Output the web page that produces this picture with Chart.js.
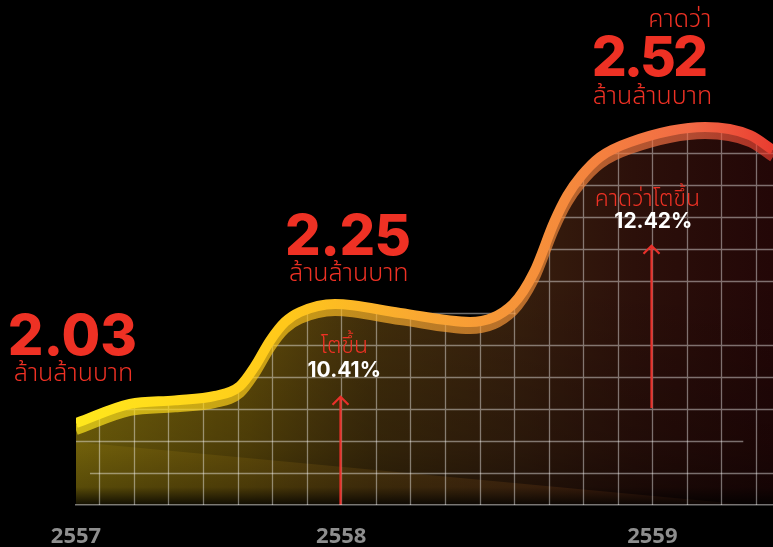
<!DOCTYPE html>
<html>
<head>
<meta charset="utf-8">
<script src="https://cdn.jsdelivr.net/npm/chart.js@4/dist/chart.umd.min.js"></script>
<style>
html,body{margin:0;padding:0;background:#000;}
#wrap{width:773px;height:547px;position:relative;}
</style>
</head>
<body>
<div id="wrap"><canvas id="c" width="773" height="547"></canvas></div>
<script>
// ---- data ----
const yearLabels = ['2557', '2558', '2559'];
const yearPos = [0.326, 8, 17];
const valueLabels = ['2.03', '2.25', '2.52'];
const unitLabel = 'ล้านล้านบาท';
const growthLabels = ['10.41%', '12.42%'];
const growthTitles = ['โตขึ้น', 'คาดว่าโตขึ้น'];
const forecastLabel = 'คาดว่า';
const arrowPos = [8, 17];
const arrowFrom = [0, 3.03];
const arrowTo = [3.38, 8.1];

const curveX = [0.326, 1.888, 3.19, 4.348, 5.071, 5.505, 5.939, 6.373, 6.807, 7.82, 9.701, 11.727, 12.97, 13.578, 14.157, 14.533, 14.938, 15.488, 16.356, 18.526, 19.828, 20.49];
const curveY = [2.56, 3.16, 3.27, 3.41, 3.72, 4.34, 5.13, 5.72, 6.03, 6.28, 6.0, 5.72, 6.28, 7.28, 8.84, 9.66, 10.28, 10.875, 11.34, 11.81, 11.56, 11.09];
const shadeX = [0.326, 19.8, 20.49];
const shadeY = [1.97, 0, 0];

// horizontal guide lines (level, start, end) that differ from full width
const guideLevels = [1, 2, 6];
const guideFrom = [0.73, 0.326, 9.21];
const guideTo = [20.49, 19.63, 13.05];

const X_MIN = 0.326, X_MAX = 20.49, Y_MAX = 13;

const THAI = "'Noto Sans Thai', 'Noto Sans Thai Looped', 'Noto Sans', 'DejaVu Sans', sans-serif";
const NUM = "Inter, 'Open Sans', sans-serif";
const RED = '#ee3124';
const GRID = 'rgba(255,255,255,0.42)';

function hGrad(chart, stops) {
  const {ctx, chartArea: a} = chart;
  const g = ctx.createLinearGradient(a.left, 0, a.right, 0);
  stops.forEach(s => g.addColorStop(s[0], s[1]));
  return g;
}

const lineStops = [[0, '#ffe81c'], [0.3, '#ffc81a'], [0.5, '#f9a632'], [0.7, '#f58a3c'], [0.88, '#f26a45'], [1, '#e93c30']];
const fillStops = [[0, 'rgba(170,145,15,0.78)'], [0.25, 'rgba(155,122,15,0.64)'], [0.42, 'rgba(130,92,22,0.52)'], [0.62, 'rgba(125,72,30,0.45)'], [0.8, 'rgba(110,40,25,0.4)'], [1, 'rgba(100,20,20,0.35)']];
const shadeStops = [[0, 'rgba(175,145,20,0.38)'], [0.5, 'rgba(175,115,30,0.36)'], [1, 'rgba(195,95,40,0.38)']];

const deco = {
  id: 'deco',
  beforeDatasetDraw(chart, args) {
    if (args.index !== 0) return;
    const {ctx, chartArea: a, scales: {x, y}} = chart;
    const line = args.meta.dataset;
    ctx.save();
    ctx.beginPath();
    line.path(ctx);
    ctx.lineTo(a.right, a.bottom);
    ctx.lineTo(a.left, a.bottom);
    ctx.closePath();
    ctx.clip();
    const g = ctx.createLinearGradient(0, y.getPixelForValue(7), 0, a.bottom);
    g.addColorStop(0, 'rgba(0,0,0,0)');
    g.addColorStop(0.75, 'rgba(0,0,0,0.25)');
    g.addColorStop(0.92, 'rgba(0,0,0,0.4)');
    g.addColorStop(1, 'rgba(0,0,0,0.88)');
    ctx.fillStyle = g;
    ctx.fillRect(a.left, a.top, a.width, a.height);
    ctx.strokeStyle = GRID;
    ctx.lineWidth = 1.3;
    ctx.beginPath();
    for (let k = Math.ceil(X_MIN); k <= X_MAX; k++) {
      const px = Math.round(x.getPixelForValue(k)) + 0.5;
      ctx.moveTo(px, a.top); ctx.lineTo(px, a.bottom);
    }
    for (let k = 1; k < Y_MAX; k++) {
      if (guideLevels.includes(k)) continue;
      const py = Math.round(y.getPixelForValue(k)) + 0.5;
      ctx.moveTo(a.left, py); ctx.lineTo(a.right, py);
    }
    ctx.stroke();
    ctx.restore();
    // guide lines with their own extent
    ctx.save();
    ctx.strokeStyle = GRID;
    ctx.lineWidth = 1.3;
    ctx.beginPath();
    guideLevels.forEach((lv, i) => {
      const py = Math.round(y.getPixelForValue(lv)) + 0.5;
      ctx.moveTo(x.getPixelForValue(guideFrom[i]), py);
      ctx.lineTo(x.getPixelForValue(guideTo[i]), py);
    });
    ctx.stroke();
    ctx.restore();
    // under-band of the stroke
    ctx.save();
    ctx.beginPath();
    ctx.rect(a.left, a.top, a.width, a.height);
    ctx.clip();
    ctx.translate(0, 7);
    ctx.globalAlpha = 0.68;
    line.draw(ctx, a);
    ctx.restore();
  },
  afterDatasetsDraw(chart) {
    const {ctx, scales: {x, y}} = chart;
    ctx.save();
    ctx.strokeStyle = '#e8302a';
    ctx.lineWidth = 2.2;
    arrowPos.forEach((p, i) => {
      const px = Math.round(x.getPixelForValue(p)) - 0.5;
      const y0 = y.getPixelForValue(arrowFrom[i]);
      const y1 = y.getPixelForValue(arrowTo[i]);
      ctx.beginPath();
      ctx.moveTo(px, y0); ctx.lineTo(px, y1);
      ctx.moveTo(px - 8, y1 + 8); ctx.lineTo(px, y1); ctx.lineTo(px + 8, y1 + 8);
      ctx.stroke();
    });
    ctx.restore();
  },
  afterDraw(chart) {
    const {ctx, scales: {x}} = chart;
    const px = i => x.getPixelForValue(yearPos[i]);
    ctx.save();
    ctx.textAlign = 'center';
    ctx.textBaseline = 'alphabetic';
    const bigY = [355, 255, 76];
    const bigDx = [-3.5, 6.5, -4];
    const bigSize = [56, 56, 55];
    const bigSpacing = ['0px', '-0.5px', '-3px'];
    const unitY = [381, 281, 104];
    const unitDx = [-2.5, 7.5, 0];
    for (let i = 0; i < 3; i++) {
      ctx.fillStyle = RED;
      ctx.font = "800 " + bigSize[i] + "px " + NUM;
      ctx.letterSpacing = bigSpacing[i];
      ctx.fillText(valueLabels[i], px(i) + bigDx[i], bigY[i]);
      ctx.letterSpacing = '0px';
      ctx.font = "300 25px " + THAI;
      ctx.fillText(unitLabel, px(i) + unitDx[i], unitY[i]);
    }
    ctx.textAlign = 'right';
    ctx.font = "300 25px " + THAI;
    ctx.fillText(forecastLabel, px(2) + 59, 27);
    ctx.textAlign = 'center';
    const gDx = [3, -5];
    const gY = [353, 206];
    const pDx = [3, 1];
    const pY = [377, 228];
    for (let i = 0; i < 2; i++) {
      const ax = x.getPixelForValue(arrowPos[i]);
      ctx.fillStyle = RED;
      ctx.font = "300 23px " + THAI;
      ctx.fillText(growthTitles[i], ax + gDx[i], gY[i]);
      ctx.fillStyle = '#ffffff';
      ctx.font = "700 21px " + NUM;
      ctx.fillText(growthLabels[i], ax + pDx[i], pY[i]);
    }
    ctx.restore();
  }
};

new Chart(document.getElementById('c'), {
  type: 'line',
  data: {
    datasets: [
      {
        data: curveX.map((v, i) => ({x: v, y: curveY[i]})),
        borderWidth: 10,
        borderColor: c => c.chart.chartArea ? hGrad(c.chart, lineStops) : '#ffc81a',
        backgroundColor: c => c.chart.chartArea ? hGrad(c.chart, fillStops) : 'rgba(150,120,20,0.5)',
        fill: 'origin',
        pointRadius: 0,
        cubicInterpolationMode: 'monotone',
        clip: 0,
        order: 1
      },
      {
        data: shadeX.map((v, i) => ({x: v, y: shadeY[i]})),
        borderWidth: 0,
        backgroundColor: c => c.chart.chartArea ? hGrad(c.chart, shadeStops) : 'rgba(170,120,30,0.3)',
        fill: 'origin',
        pointRadius: 0,
        tension: 0,
        clip: 0,
        order: 2
      }
    ]
  },
  options: {
    responsive: false,
    animation: false,
    devicePixelRatio: 1,
    layout: {padding: {left: 76, right: 0, top: 505 - Y_MAX * 32, bottom: 0}},
    plugins: {legend: {display: false}, tooltip: {enabled: false}},
    scales: {
      x: {
        type: 'linear',
        min: X_MIN,
        max: X_MAX,
        afterBuildTicks: s => { s.ticks = yearPos.map(v => ({value: v})); },
        afterFit: s => { s.height = 42; },
        ticks: {
          callback: (v, i) => yearLabels[i],
          color: '#8e8e8e',
          font: {family: "'Open Sans', sans-serif", size: 22, weight: '700'},
          padding: 19,
          autoSkip: false,
          maxRotation: 0
        },
        grid: {display: true, drawOnChartArea: false, drawTicks: false, color: 'rgba(0,0,0,0)'},
        border: {display: true, color: 'rgba(255,255,255,0.45)', width: 1.5, z: 1}
      },
      y: {
        display: false,
        min: 0,
        max: Y_MAX
      }
    }
  },
  plugins: [deco]
});
</script>
</body>
</html>
